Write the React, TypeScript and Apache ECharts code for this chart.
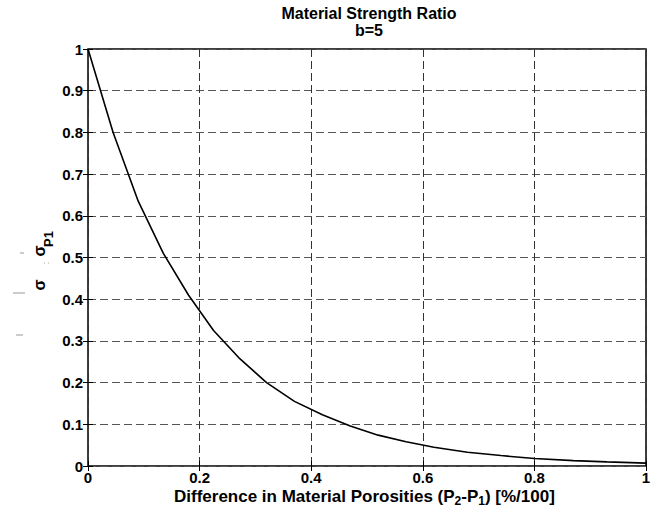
import React, { useEffect, useRef } from "react";
import * as echarts from "echarts";

const titleLines = ["Material Strength Ratio", "b=5"];
const xTicks = [0, 0.2, 0.4, 0.6, 0.8, 1];
const yTicks = [0, 0.1, 0.2, 0.3, 0.4, 0.5, 0.6, 0.7, 0.8, 0.9, 1];
const porosityDiff = [0, 0.045, 0.09, 0.135, 0.18, 0.225, 0.27, 0.32, 0.37, 0.42, 0.47, 0.52, 0.57, 0.62, 0.68, 0.74, 0.8, 0.87, 0.93, 1.0];
const strengthRatio = [1.0, 0.8, 0.635, 0.51, 0.41, 0.325, 0.26, 0.2, 0.155, 0.123, 0.096, 0.074, 0.058, 0.045, 0.033, 0.025, 0.018, 0.013, 0.01, 0.007];

const FONT = "'Liberation Sans', Arial, Helvetica, sans-serif";

export default function App() {
  const ref = useRef<HTMLDivElement>(null);
  useEffect(() => {
    if (!ref.current) return;
    const chart = echarts.init(ref.current, null, { renderer: "svg" });
    const labelStyle = { color: "#000", fontFamily: FONT, fontWeight: "bold" as const, fontSize: 15, lineHeight: 15 };
    const axisCommon = {
      type: "value" as const,
      min: 0,
      max: 1,
      axisLine: { show: false },
      axisTick: { show: true, inside: true, length: 5, lineStyle: { color: "#000", width: 1 } },
    };
    const fmt = (ticks: number[]) => (v: number) => {
      const r = Math.round(v * 10) / 10;
      return ticks.includes(r) ? String(r) : "";
    };
    chart.setOption({
      animation: false,
      backgroundColor: "#fff",
      title: {
        text: titleLines.join("\n"),
        left: 369,
        textAlign: "center",
        top: 5,
        padding: 0,
        textStyle: { color: "#000", fontFamily: FONT, fontWeight: "bold", fontSize: 16, lineHeight: 17 },
      },
      grid: { left: 88, right: 14, top: 49, bottom: 48, show: true, borderColor: "#000", borderWidth: 1.5, backgroundColor: "#fff" },
      xAxis: [
        {
          ...axisCommon,
          position: "bottom",
          interval: 0.2,
          axisLabel: { ...labelStyle, margin: 4, formatter: fmt(xTicks) },
          splitLine: { show: true, lineStyle: { color: "#333", type: [8, 4] as any, width: 1 } },
        },
        {
          ...axisCommon,
          position: "top",
          interval: 0.2,
          axisLabel: { show: false },
          splitLine: { show: false },
        },
      ],
      yAxis: [
        {
          ...axisCommon,
          position: "left",
          interval: 0.1,
          axisLabel: { ...labelStyle, margin: 5, formatter: fmt(yTicks) },
          splitLine: { show: true, lineStyle: { color: "#555", type: [8, 4] as any, width: 1 } },
        },
        {
          ...axisCommon,
          position: "right",
          interval: 0.1,
          axisLabel: { show: false },
          splitLine: { show: false },
        },
      ],
      series: [
        {
          type: "line",
          data: porosityDiff.map((x, i) => [x, strengthRatio[i]]),
          showSymbol: false,
          smooth: false,
          lineStyle: { color: "#000", width: 1.6 },
          z: 5,
        },
      ],
      graphic: [
        {
          type: "text",
          left: 174,
          top: 488,
          style: {
            text: "{n|Difference in Material Porosities (P}{s|2}{n|-P}{s|1}{n|) [%/100]}",
            fill: "#000",
            font: `bold 17px ${FONT}`,
            rich: {
              n: { fontFamily: FONT, fontWeight: "bold", fontSize: 17, lineHeight: 20, fill: "#000" } as any,
              s: { fontFamily: FONT, fontWeight: "bold", fontSize: 12, lineHeight: 10, verticalAlign: "bottom", fill: "#000" } as any,
            },
          } as any,
        },
        { type: "text", x: 39, y: 285, rotation: Math.PI / 2, style: { text: "σ", font: `bold 16px ${FONT}`, fill: "#000", align: "center", verticalAlign: "middle" } },
        { type: "text", x: 39, y: 251, rotation: Math.PI / 2, style: { text: "σ", font: `bold 16px ${FONT}`, fill: "#000", align: "center", verticalAlign: "middle" } },
        { type: "text", x: 48, y: 239, rotation: Math.PI / 2, style: { text: "P1", font: `bold 13px ${FONT}`, fill: "#000", align: "center", verticalAlign: "middle" } },
        { type: "line", shape: { x1: 20, y1: 253, x2: 24, y2: 253 }, style: { stroke: "#999", lineWidth: 1 } },
        { type: "line", shape: { x1: 13, y1: 293, x2: 25, y2: 293 }, style: { stroke: "#999", lineWidth: 1 } },
        { type: "line", shape: { x1: 16, y1: 335, x2: 23, y2: 335 }, style: { stroke: "#999", lineWidth: 1 } },
        { type: "line", shape: { x1: 44, y1: 263, x2: 45, y2: 263 }, style: { stroke: "#aaa", lineWidth: 1 } },
        { type: "line", shape: { x1: 48, y1: 263, x2: 49, y2: 263 }, style: { stroke: "#aaa", lineWidth: 1 } },
      ],
    });
    return () => chart.dispose();
  }, []);
  return <div ref={ref} style={{ position: "fixed", left: 0, top: 0, width: 660, height: 514 }} />;
}
